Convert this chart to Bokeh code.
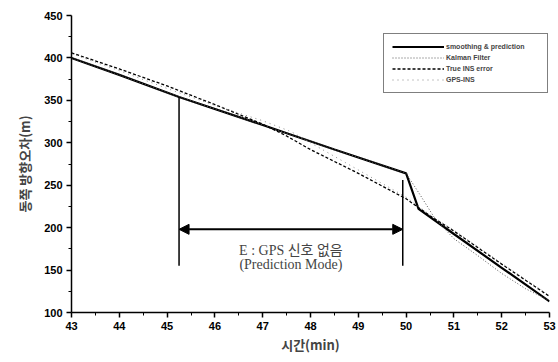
from bokeh.plotting import figure
from bokeh.models import (Range1d, FixedTicker, Legend, LegendItem, Arrow,
                          NormalHead, Label)
from bokeh.embed import file_html
from bokeh.resources import INLINE

# ---- data ----
t_smooth = [43, 44, 45.25, 47, 48.5, 50.0, 50.26, 51, 52, 53]
v_smooth = [400, 380, 354, 321, 292, 264, 222, 192.5, 152.7, 113]

t_kalman = [43, 44, 45.25, 47, 48.5, 50.0, 50.3, 50.6, 51, 51.5, 52, 52.5, 53]
v_kalman = [400, 380, 354, 321, 292, 264, 238, 211, 187, 167, 146, 128, 114]

t_true = [43, 44, 45, 46, 47, 47.5, 48, 49, 50, 50.5, 51, 52, 53]
v_true = [406, 387, 367, 345, 322, 308, 292, 264, 234, 214, 196, 157, 119]

t_gps = [43, 44, 45, 46, 47, 47.6, 48, 49, 50, 50.5, 51, 52, 53]
v_gps = [405, 385, 364, 344, 326, 313, 300, 268, 236, 215, 197, 158, 120]

x_ticks = [43, 44, 45, 46, 47, 48, 49, 50, 51, 52, 53]
y_ticks = [100, 150, 200, 250, 300, 350, 400, 450]

# outage interval annotation
outage_start, outage_end = 45.25, 49.93
outage_top_start, outage_top_end, outage_bottom = 354, 256, 155
arrow_y = 198

p = figure(width=558, height=362, output_backend="svg", toolbar_location=None,
           x_range=Range1d(43, 53), y_range=Range1d(100, 450),
           min_border_left=71, min_border_right=9, min_border_top=15,
           min_border_bottom=50)
p.outline_line_color = None
p.xgrid.visible = False
p.ygrid.visible = False
p.background_fill_color = "white"

r_s = p.line(t_smooth, v_smooth, line_color="black", line_width=2.2)
r_k = p.line(t_kalman, v_kalman, line_color="#555555", line_width=1, line_dash="1 2")
r_t = p.line(t_true, v_true, line_color="black", line_width=1.3, line_dash="3 2")
r_g = p.line(t_gps, v_gps, line_color="#888888", line_width=1, line_dash="1 4")

# outage markers
p.segment(x0=[outage_start, outage_end], y0=[outage_top_start, outage_top_end],
          x1=[outage_start, outage_end], y1=[outage_bottom, outage_bottom],
          line_color="black", line_width=1.5)
p.add_layout(Arrow(start=NormalHead(size=10, fill_color="black", line_color="black"),
                   end=NormalHead(size=10, fill_color="black", line_color="black"),
                   x_start=outage_start, y_start=arrow_y, x_end=outage_end, y_end=arrow_y,
                   line_width=2, line_color="black"))
p.add_layout(Label(x=(outage_start + outage_end) / 2, y=173, text="E : GPS 신호 없음",
                   text_align="center", text_baseline="middle",
                   text_font="Liberation Serif, Noto Sans CJK KR", text_font_size="14px"))
p.add_layout(Label(x=(outage_start + outage_end) / 2, y=157, text="(Prediction Mode)",
                   text_align="center", text_baseline="middle",
                   text_font="Liberation Serif", text_font_size="14px"))

# axes
for ax in (p.xaxis[0], p.yaxis[0]):
    ax.axis_line_width = 1.5
    ax.major_tick_in = 0
    ax.major_tick_out = 5
    ax.minor_tick_in = 0
    ax.minor_tick_out = 3
    ax.major_tick_line_width = 1.5
    ax.major_label_text_font = "Liberation Sans"
    ax.major_label_text_font_style = "bold"
    ax.major_label_text_font_size = "11px"
    ax.major_label_text_color = "black"
    ax.axis_label_text_font = "Noto Sans CJK KR"
    ax.axis_label_text_font_style = "bold"
    ax.axis_label_text_font_size = "13px"

p.xaxis.ticker = FixedTicker(ticks=x_ticks, minor_ticks=[x + 0.5 for x in x_ticks[:-1]])
p.yaxis.ticker = FixedTicker(ticks=y_ticks, minor_ticks=[y + 25 for y in y_ticks[:-1]])
p.xaxis.axis_label = "시간(min)"
p.yaxis.axis_label = "동쪽 방향오차(m)"
p.xaxis.major_label_standoff = 4
p.yaxis.major_label_standoff = 4
p.xaxis.axis_label_standoff = 2
p.yaxis.axis_label_standoff = 7

legend = Legend(items=[
    LegendItem(label="smoothing & prediction", renderers=[r_s]),
    LegendItem(label="Kalman Filter", renderers=[r_k]),
    LegendItem(label="True INS error", renderers=[r_t]),
    LegendItem(label="GPS-INS", renderers=[r_g]),
], location=(312, 219))
legend.label_text_font = "Liberation Sans"
legend.label_text_font_style = "bold"
legend.label_text_font_size = "7px"
legend.label_text_align = "left"
legend.label_height = 9
legend.label_width = 93
legend.glyph_height = 9
legend.glyph_width = 52
legend.spacing = 2
legend.padding = 8
legend.margin = 0
legend.label_standoff = 2
legend.border_line_color = "black"
legend.border_line_width = 1.5
legend.background_fill_alpha = 1
p.add_layout(legend)

open("out.html", "w").write(file_html(p, INLINE))
